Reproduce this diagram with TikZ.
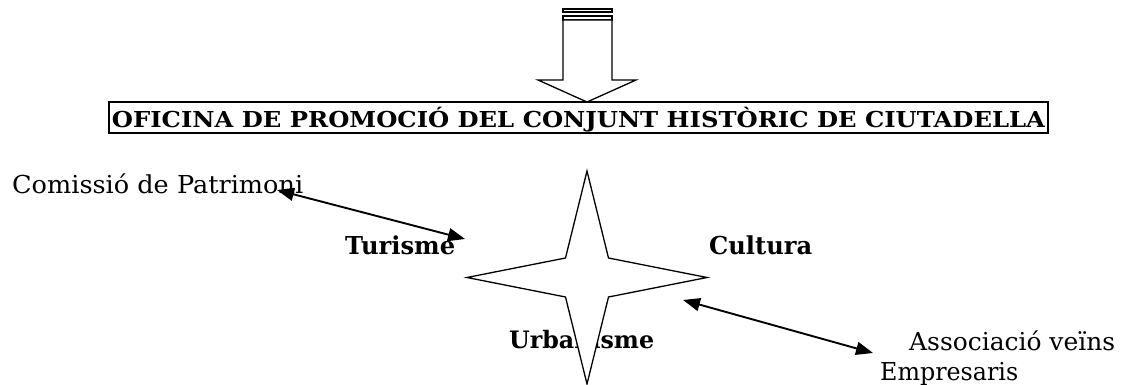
\documentclass[tikz,border=0pt]{standalone}
\usepackage{fontspec}
\setmainfont{DejaVu Serif}
\usetikzlibrary{arrows.meta}
\newlength\fbw
\newlength\fbh
% #1 target width, #2 target cap height, #3 font switch, #4 text
\newcommand\fitbox[4]{%
  \settowidth\fbw{#3#4}\settoheight\fbh{#3H}%
  \pgfmathsetmacro\fbsx{#1/\fbw}\pgfmathsetmacro\fbsy{#2/\fbh}%
  \scalebox{\fbsx}[\fbsy]{#3#4}}
\begin{document}
\begin{tikzpicture}[x=1pt,y=-1pt,
  lab/.style={inner sep=0pt, anchor=base west},
  conn/.style={line width=1.9pt, {Triangle[length=17pt,width=13pt]}-{Triangle[length=17pt,width=13pt]}},
  outline/.style={line width=1.3pt, line join=miter, fill=white},
  framebox/.style={draw, line width=1.9pt, inner sep=0pt, minimum width=939pt, minimum height=31pt}]
\useasboundingbox (0,0) rectangle (1122,385);
% top striped arrow
\draw[outline] (563,9) rectangle (612,12);
\draw[outline] (563,16) rectangle (612,20);
\draw[outline] (563,20) -- (612,20) -- (612,80) -- (636,80) -- (587,102) -- (538,80) -- (563,80) -- cycle;
% title
\node[framebox] (titlebox) at (578.5,117.5) {};
\node[inner sep=0pt, anchor=base] (title) at (578.5,127.5) {\fitbox{933}{16}{\bfseries}{OFICINA DE PROMOCIÓ DEL CONJUNT HISTÒRIC DE CIUTADELLA}};
% labels
\node[lab] (com) at (12,193) {\fitbox{291}{18}{}{Comissió de Patrimoni}};
\node[lab] (tur) at (345,254) {\fitbox{110}{18}{\bfseries}{Turisme}};
\node[lab] (cul) at (709,254) {\fitbox{103}{18}{\bfseries}{Cultura}};
\node[lab] (urb) at (509,348) {\fitbox{145}{17.5}{\bfseries}{Urbanisme}};
\node[lab] (assoc) at (909,350) {\fitbox{206}{18}{}{Associació veïns}};
\node[lab] (emp) at (880,380) {\fitbox{138}{18}{}{Empresaris}};
% star
\draw[outline] (587,171) -- (608.5,258) -- (707,277.5) -- (608.5,297) -- (587,384) -- (565.5,297) -- (467,277.5) -- (565.5,258) -- cycle;
% connectors
\coordinate (comend) at (277,190);
\coordinate (turend) at (465,239);
\coordinate (starend) at (683,300);
\coordinate (assocend) at (873,353);
\draw[conn] (comend) -- (turend);
\draw[conn] (starend) -- (assocend);
\end{tikzpicture}
\end{document}
